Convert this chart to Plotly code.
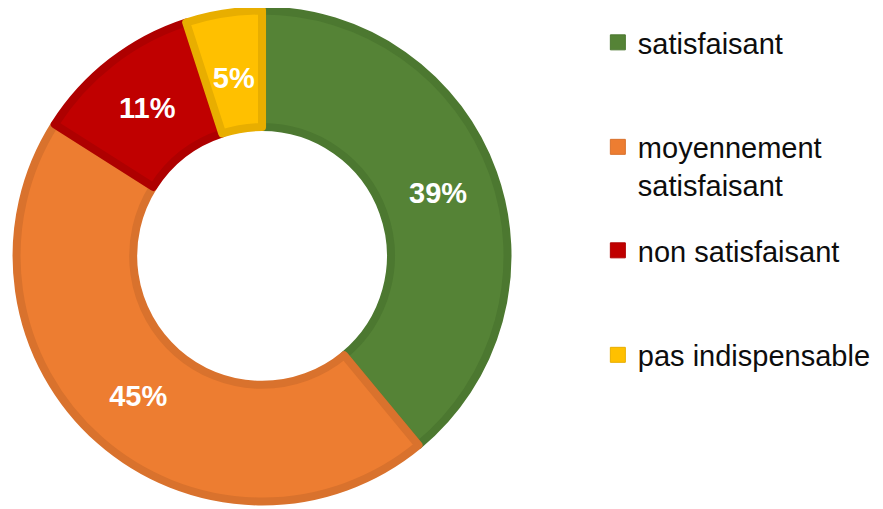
import plotly.graph_objects as go

labels = ["satisfaisant", "moyennement<br>satisfaisant", "non satisfaisant", "pas indispensable"]
values = [39, 45, 11, 5]
fill_colors = ["#558336", "#ED7D31", "#C00000", "#FFC000"]
edge_colors = ["#4C7830", "#D9722D", "#AE0000", "#E8AE00"]

FONT = "Arial, 'Liberation Sans', sans-serif"
LABEL_FONT = dict(family=FONT, size=29, color="white", weight="bold")

# which slices get their percentage label from the main ring / from the inner helper ring
main_text = ["%{percent:.0%}", "%{percent:.0%}", "%{percent:.0%}", ""]
helper_text = ["", "", "", "%{percent:.0%}"]

fig = go.Figure()

# main donut
fig.add_trace(go.Pie(
    labels=labels,
    values=values,
    hole=0.525,
    sort=False,
    direction="clockwise",
    rotation=0,
    marker=dict(colors=fill_colors, line=dict(color=edge_colors, width=8)),
    texttemplate=main_text,
    textposition="inside",
    insidetextorientation="horizontal",
    textfont=LABEL_FONT,
    showlegend=False,
    domain=dict(x=[0.0097, 0.5657], y=[0.0305, 0.9951]),
    hoverinfo="label+percent",
))

# transparent helper ring (same data) used only to place the small slice's label mid-ring
fig.add_trace(go.Pie(
    labels=labels,
    values=values,
    hole=0.525,
    sort=False,
    direction="clockwise",
    rotation=0,
    marker=dict(colors=["rgba(0,0,0,0)"] * len(values), line=dict(width=0)),
    texttemplate=helper_text,
    textposition="inside",
    insidetextorientation="horizontal",
    textfont=LABEL_FONT,
    showlegend=False,
    domain=dict(x=[0.0513, 0.5241], y=[0.1028, 0.9228]),
    hoverinfo="skip",
))

legend_tops = [0.9823, 0.777, 0.5737, 0.3684]
legend_names = ["legend", "legend2", "legend3", "legend4"]

for i, lab in enumerate(labels):
    fig.add_trace(go.Scatter(
        x=[None], y=[None], mode="markers", name=lab,
        marker=dict(symbol="square", size=15, color=fill_colors[i],
                    line=dict(color=edge_colors[i], width=1)),
        legend=legend_names[i],
        showlegend=True,
    ))

layout_legends = {}
for i, ln in enumerate(legend_names):
    layout_legends[ln] = dict(
        x=0.668, y=legend_tops[i], xanchor="left", yanchor="top",
        font=dict(family=FONT, size=29, color="#0d0d0d"),
        valign="top", bgcolor="rgba(0,0,0,0)", borderwidth=0,
        itemwidth=30,
    )

fig.update_layout(
    width=883, height=509,
    margin=dict(l=0, r=0, t=0, b=0),
    paper_bgcolor="white", plot_bgcolor="white",
    xaxis=dict(visible=False), yaxis=dict(visible=False),
    **layout_legends,
)

fig.write_html("out.html")
